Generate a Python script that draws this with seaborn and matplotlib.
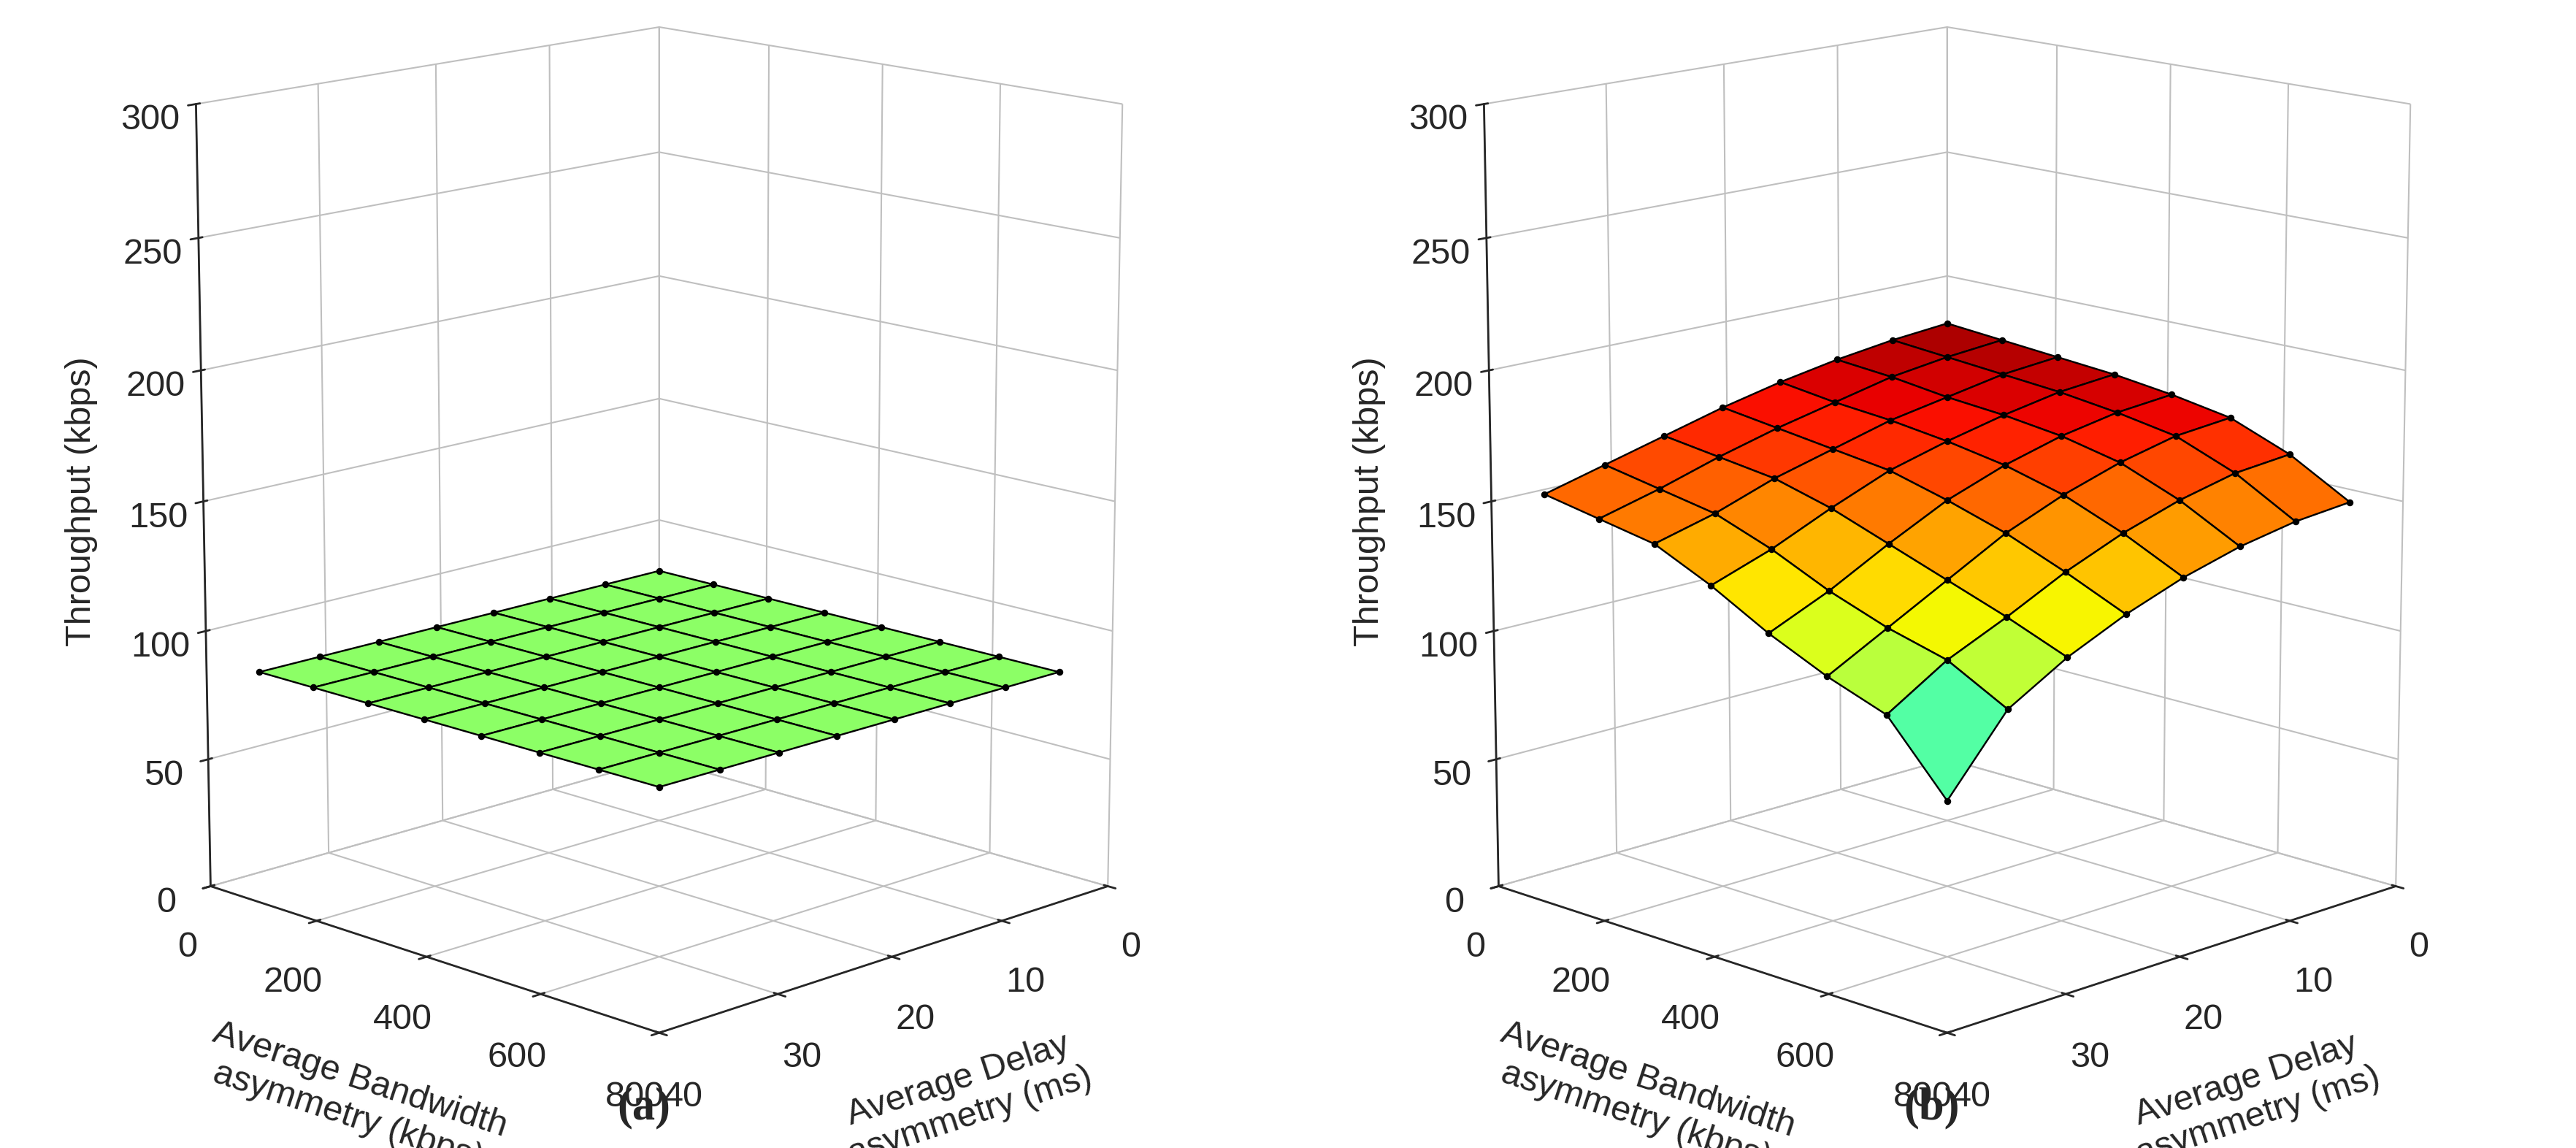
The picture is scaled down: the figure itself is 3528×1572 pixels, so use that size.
import numpy as np
import matplotlib
matplotlib.use("Agg")
import matplotlib.pyplot as plt
import seaborn as sns
from matplotlib import cm, colors

sns.set_style("white")
plt.rcParams["font.family"] = "Liberation Sans"

delay = [5, 10, 15, 20, 25, 30, 35, 40]
bandwidth = [100, 200, 300, 400, 500, 600, 700, 800]
throughput_a = [[90] * 8 for _ in range(8)]
# rows: bandwidth, cols: delay
throughput_b = [
    [190, 188, 185, 181, 176, 170, 164, 158],
    [188, 186, 183, 178, 173, 167, 160, 154],
    [186, 184, 180, 176, 170, 164, 156, 150],
    [184, 182, 178, 173, 167, 158, 148, 140],
    [181, 179, 175, 169, 161, 150, 138, 128],
    [177, 175, 170, 163, 154, 142, 130, 118],
    [168, 166, 161, 154, 145, 134, 124, 110],
    [155, 153, 149, 143, 135, 125, 112, 85],
]

fig = plt.figure(figsize=(14.112, 6.288), dpi=250)
X, Y = np.meshgrid(delay, bandwidth)
norm = colors.Normalize(vmin=-4, vmax=194)

for k, (Z, cap) in enumerate([(np.array(throughput_a, float), "a"), (np.array(throughput_b, float), "b")]):
    ax = fig.add_axes([-0.02 + k * 0.5, 0.06, 0.54, 0.98], projection="3d")
    ax.set_box_aspect((1, 1, 1.25), zoom=1.05)
    if cap == "a":
        ax.plot_surface(X, Y, Z, color="#8CFF66", edgecolor="black", linewidth=0.7, shade=False)
    else:
        cols = cm.jet(norm(Z))
        fc = cols.copy()
        fc[:-1, :-1] = cols[1:, 1:]
        ax.plot_surface(X, Y, Z, facecolors=fc, edgecolor="black", linewidth=0.7, shade=False)
    ax.scatter(X.ravel(), Y.ravel(), Z.ravel(), color="black", s=3, depthshade=False)
    ax.set_xlim(0, 40)
    ax.set_ylim(0, 800)
    ax.set_zlim(0, 300)
    ax.set_xticks([0, 10, 20, 30, 40])
    ax.set_yticks([0, 200, 400, 600, 800])
    ax.set_zticks([0, 50, 100, 150, 200, 250, 300])
    ax.view_init(elev=14, azim=45)
    for a in (ax.xaxis, ax.yaxis, ax.zaxis):
        a.set_pane_color((1, 1, 1, 0))
        a._axinfo["grid"]["color"] = (0.75, 0.75, 0.75, 1)
        a._axinfo["grid"]["linewidth"] = 0.6
    ax.tick_params(labelsize=14)
    ax.set_xlabel("Average Delay\nasymmetry (ms)", fontsize=14, labelpad=14)
    ax.set_ylabel("Average Bandwidth\nasymmetry (kbps)", fontsize=14, labelpad=14)
    ax.zaxis.set_rotate_label(False)
    ax.set_zlabel("Throughput (kbps)", fontsize=14, labelpad=10, rotation=90)
    fig.text(0.25 + k * 0.5, 0.025, f"({cap})", ha="center", fontsize=18, family="Liberation Serif", weight="bold")

fig.savefig("out.png", dpi=250)
